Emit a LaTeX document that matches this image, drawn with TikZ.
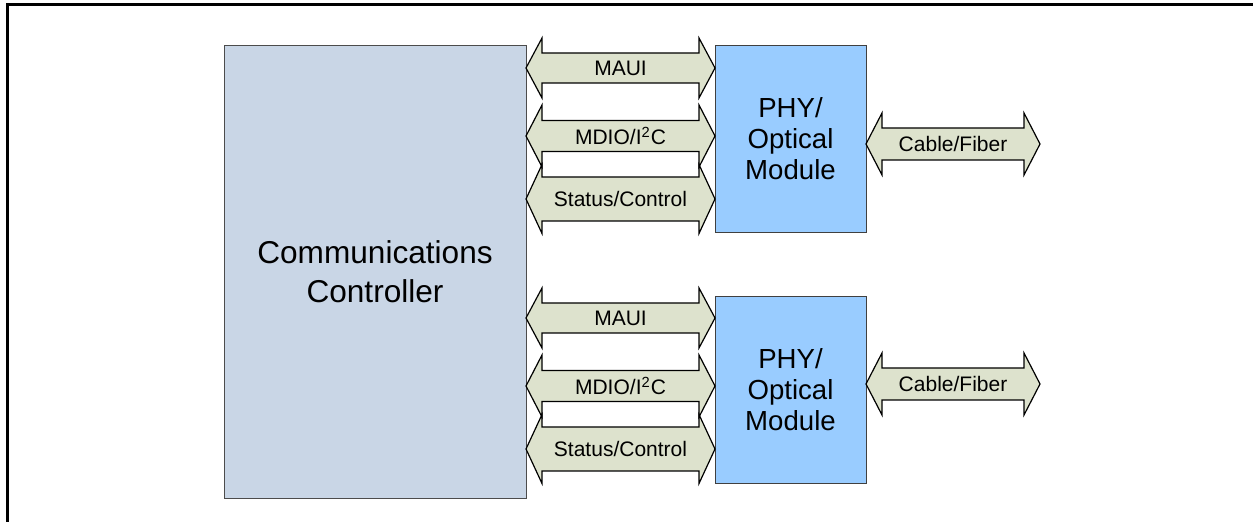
\documentclass[tikz,border=0pt]{standalone}
\usepackage{fontspec}
\setmainfont{Liberation Sans}
\usepackage{tikz}
\usetikzlibrary{calc}
\usepackage{xcolor}
\definecolor{ctrlfill}{HTML}{C9D6E6}
\definecolor{phyfill}{HTML}{99CCFF}
\definecolor{busfill}{HTML}{DDE2CD}

% double headed bus arrow: left point, right point, body half, head half, label
\newcommand{\busarrow}[5]{%
  \path (#1) coordinate (bl) (#2) coordinate (br);
  \draw[bus] (bl) -- ($(bl)+(16,-#4)$) -- ($(bl)+(16,-#3)$) -- ($(br)+(-16,-#3)$)
    -- ($(br)+(-16,-#4)$) -- (br) -- ($(br)+(-16,#4)$) -- ($(br)+(-16,#3)$)
    -- ($(bl)+(16,#3)$) -- ($(bl)+(16,#4)$) -- cycle;
  \node[buslabel] at ($(bl)!0.5!(br)$) {#5};
}

\begin{document}
\begin{tikzpicture}[x=0.5pt,y=-0.5pt,
ctrlbox/.style={draw=gray!60!black,fill=ctrlfill,outer sep=0pt,minimum width=151pt,minimum height=226.5pt,align=center,font=\fontsize{15.8}{19.5}\selectfont},
phybox/.style={draw=black!75,fill=phyfill,outer sep=0pt,minimum width=75.5pt,minimum height=93.5pt,align=center,font=\fontsize{13.8}{15.5}\selectfont},
bus/.style={draw=black,fill=busfill,line width=0.6pt,line join=miter},
buslabel/.style={font=\fontsize{10.5}{12}\selectfont,inner sep=0pt}]
\useasboundingbox (0,0) rectangle (1253,522);
\draw[line width=1.5pt] (7,522) -- (7,5) -- (1253,5);

\node (ctrl) [ctrlbox] at (375,271.5) {Communications\\Controller};
\node (phy1) [phybox] at (790.5,138.5) {PHY/\\Optical\\Module};
\node (phy2) [phybox] at (790.5,389.5) {PHY/\\Optical\\Module};
\coordinate (cab1) at (1040,144);
\coordinate (cab2) at (1040,384);

%\busarrow{from}{to}{body}{head}{label}
\busarrow{ctrl.east |- 0,68}{phy1.west |- 0,68}{15}{30}{MAUI}
\busarrow{ctrl.east |- 0,136}{phy1.west |- 0,136}{15.5}{31}{MDIO/I\textsuperscript{2}C}
\busarrow{ctrl.east |- 0,199}{phy1.west |- 0,199}{22}{34.5}{Status/Control}
\busarrow{ctrl.east |- 0,318}{phy2.west |- 0,318}{15}{30}{MAUI}
\busarrow{ctrl.east |- 0,386}{phy2.west |- 0,386}{15.5}{31}{MDIO/I\textsuperscript{2}C}
\busarrow{ctrl.east |- 0,449}{phy2.west |- 0,449}{22}{34.5}{Status/Control}
\busarrow{phy1.east |- 0,144}{cab1}{16}{31}{Cable/Fiber}
\busarrow{phy2.east |- 0,384}{cab2}{16}{31}{Cable/Fiber}
\end{tikzpicture}
\end{document}
